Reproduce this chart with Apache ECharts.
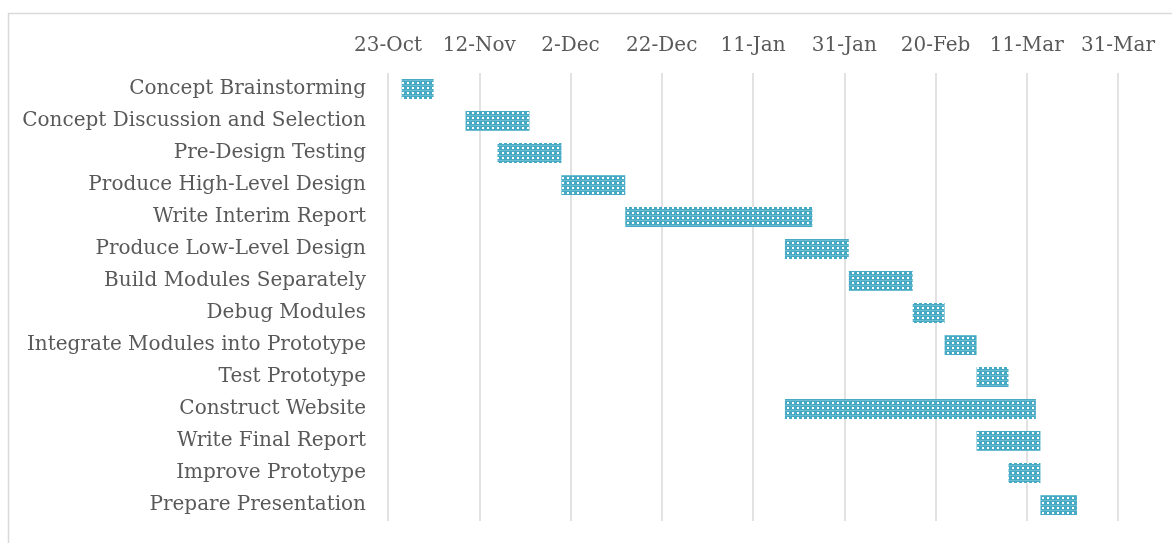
<!DOCTYPE html>
<html>
<head>
<meta charset="utf-8">
<script src="https://cdn.jsdelivr.net/npm/echarts@6/dist/echarts.min.js"></script>
<style>
  html, body { margin: 0; padding: 0; background: #fff; }
  #chart { width: 1172px; height: 543px; }
</style>
</head>
<body>
<div id="chart"></div>
<script>
// Project schedule
const tasks = [
  'Concept Brainstorming',
  'Concept Discussion and Selection',
  'Pre-Design Testing',
  'Produce High-Level Design',
  'Write Interim Report',
  'Produce Low-Level Design',
  'Build Modules Separately',
  'Debug Modules',
  'Integrate Modules into Prototype',
  'Test Prototype',
  'Construct Website',
  'Write Final Report',
  'Improve Prototype',
  'Prepare Presentation'
];
const startDates = [
  '2015-10-26', '2015-11-09', '2015-11-16', '2015-11-30', '2015-12-14',
  '2016-01-18', '2016-02-01', '2016-02-15', '2016-02-22', '2016-02-29',
  '2016-01-18', '2016-02-29', '2016-03-07', '2016-03-14'
];
const durationDays = [7, 14, 14, 14, 41, 14, 14, 7, 7, 7, 55, 14, 7, 8];

// Date axis: origin, step (days) and its tick labels
const axisOrigin = '2015-10-23';
const tickStepDays = 20;
const tickLabels = ['23-Oct', '12-Nov', '2-Dec', '22-Dec', '11-Jan', '31-Jan', '20-Feb', '11-Mar', '31-Mar'];

const DAY = 86400000;
const originMs = Date.parse(axisOrigin);
const startOffsets = startDates.map(d => Math.round((Date.parse(d) - originMs) / DAY));

// Dotted fill pattern for the task bars
function makePattern() {
  const c = document.createElement('canvas');
  c.width = 5; c.height = 5;
  const g = c.getContext('2d');
  g.fillStyle = '#46aac5';
  g.fillRect(0, 0, 5, 5);
  g.fillStyle = '#6cbcd2';
  g.fillRect(0, 0, 5, 1);
  g.fillStyle = '#ffffff';
  g.fillRect(2, 2, 2, 2);
  return c;
}

const font = '"DejaVu Serif", serif';
const textColor = '#595959';

const chart = echarts.init(document.getElementById('chart'));
chart.setOption({
  animation: false,
  backgroundColor: '#ffffff',
  graphic: [{
    type: 'rect',
    x: 0, y: 0,
    shape: { x: 8.5, y: 13.5, width: 1300, height: 700 },
    style: { fill: 'none', stroke: '#d9d9d9', lineWidth: 1.5 },
    silent: true
  }],
  grid: { left: 388, right: 54, top: 73, bottom: 22, containLabel: false },
  xAxis: {
    type: 'value',
    position: 'top',
    min: 0,
    max: tickStepDays * (tickLabels.length - 1),
    interval: tickStepDays,
    axisLine: { show: false },
    axisTick: { show: false },
    splitLine: { show: true, lineStyle: { color: '#d9d9d9', width: 1.5 } },
    axisLabel: {
      margin: 17,
      fontFamily: font,
      fontSize: 20,
      color: textColor,
      formatter: v => tickLabels[Math.round(v / tickStepDays)] || ''
    }
  },
  yAxis: {
    type: 'category',
    data: tasks,
    inverse: true,
    axisLine: { show: false },
    axisTick: { show: false },
    splitLine: { show: false },
    axisLabel: {
      margin: 22,
      fontFamily: font,
      fontSize: 20,
      color: textColor
    }
  },
  series: [
    {
      name: 'Start',
      type: 'bar',
      stack: 'plan',
      data: startOffsets,
      barWidth: 20,
      itemStyle: { color: 'rgba(0,0,0,0)' },
      silent: true
    },
    {
      name: 'Duration',
      type: 'bar',
      stack: 'plan',
      data: durationDays,
      barWidth: 20,
      itemStyle: { color: { image: makePattern(), repeat: 'repeat' } }
    }
  ]
});
</script>
</body>
</html>
